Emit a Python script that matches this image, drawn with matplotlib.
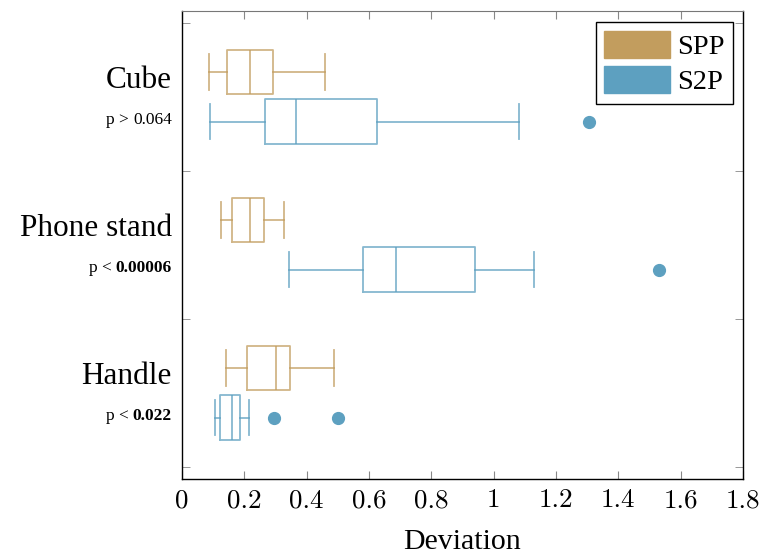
import matplotlib
matplotlib.use("Agg")
import matplotlib.pyplot as plt
from matplotlib.patches import Patch
from matplotlib.ticker import FixedLocator
from matplotlib.transforms import blended_transform_factory

categories = ["Cube", "Phone stand", "Handle"]
p_prefix = ["p > ", "p < ", "p < "]
p_values = ["0.064", "0.00006", "0.022"]
p_bold = [False, True, True]
series = ["SPP", "S2P"]

# five-number summaries: whislo, q1, med, q3, whishi
spp_stats = [
    [0.087, 0.143, 0.217, 0.293, 0.460],
    [0.124, 0.161, 0.217, 0.264, 0.328],
    [0.142, 0.210, 0.303, 0.348, 0.487],
]
s2p_stats = [
    [0.091, 0.265, 0.366, 0.626, 1.081],
    [0.343, 0.581, 0.687, 0.939, 1.131],
    [0.106, 0.121, 0.161, 0.187, 0.216],
]
spp_outliers = [[], [], []]
s2p_outliers = [[1.306], [1.529], [0.294, 0.501]]

xticks = [0, 0.2, 0.4, 0.6, 0.8, 1, 1.2, 1.4, 1.6, 1.8]
xticklabels = ["0", "0.2", "0.4", "0.6", "0.8", "1", "1.2", "1.4", "1.6", "1.8"]

col_spp = "#C29D5E"
col_s2p = "#5DA0C0"
serif = ["Liberation Serif", "DejaVu Serif"]

fig = plt.figure(figsize=(7.63, 5.54), dpi=100)
ax = fig.add_axes([182/763, 1 - 479/554, (743-182)/763, (479-11)/554])

centers = [3, 2, 1]
off = 0.167

def mk(stats, outl, label):
    return [dict(whislo=s[0], q1=s[1], med=s[2], q3=s[3], whishi=s[4],
                 fliers=o, label=label) for s, o in zip(stats, outl)]

for stats, outl, col, sign in [(spp_stats, spp_outliers, col_spp, +1),
                               (s2p_stats, s2p_outliers, col_s2p, -1)]:
    pos = [c + sign * off for c in centers]
    ax.bxp(mk(stats, outl, ""), positions=pos, widths=0.30, capwidths=0.24,
           vert=False, showfliers=True, patch_artist=False,
           boxprops=dict(color=col, alpha=0.75, lw=1.3),
           medianprops=dict(color=col, alpha=0.75, lw=1.3),
           whiskerprops=dict(color=col, alpha=0.75, lw=1.3),
           capprops=dict(color=col, alpha=0.75, lw=1.3),
           flierprops=dict(marker="o", markerfacecolor=col, markeredgecolor=col,
                           markersize=8.5, linestyle="none"))

ax.set_xlim(0, 1.8)
ax.set_ylim(0.419, 3.58)
ax.set_xticks(xticks)
ax.set_xticklabels(xticklabels, fontfamily="cmr10", fontsize=19.5)
ax.tick_params(axis="x", direction="in", length=6, color="#888888",
               top=True, bottom=True, pad=7)
ax.set_yticks(centers)
ax.set_yticklabels([])
ax.tick_params(axis="y", which="major", length=0)
ax.yaxis.set_minor_locator(FixedLocator([0.5, 1.5, 2.5, 3.5]))
ax.tick_params(axis="y", which="minor", direction="in", length=6,
               color="#888888", left=True, right=True)

for sp in ["left", "right", "bottom"]:
    ax.spines[sp].set_color("black")
    ax.spines[sp].set_linewidth(1.0)
ax.spines["top"].set_color("#777777")

ax.set_xlabel("Deviation", fontfamily=serif, fontsize=21.5, labelpad=12)

tr = blended_transform_factory(ax.transAxes, ax.transData)
for c, name, pre, pv, b in zip(centers, categories, p_prefix, p_values, p_bold):
    ax.text(-0.018, c + 0.11, name, transform=tr, ha="right", va="center",
            fontfamily=serif, fontsize=22.5)
    t = ax.text(-0.018, c - 0.155, pv, transform=tr, ha="right", va="center",
                fontfamily=serif, fontsize=12.5,
                fontweight="bold" if b else "normal")
    ax.annotate(pre, xy=(0, 0), xycoords=t, ha="right", va="bottom",
                fontfamily=serif, fontsize=12.5)

handles = [Patch(facecolor=col_spp, edgecolor=col_spp, label=series[0]),
           Patch(facecolor=col_s2p, edgecolor=col_s2p, label=series[1])]
leg = ax.legend(handles=handles, loc="upper right", bbox_to_anchor=(0.982, 0.976),
                prop={"family": serif, "size": 20.5}, fancybox=False,
                framealpha=1, edgecolor="black", handlelength=2.3,
                handleheight=1.1, handletextpad=0.25, borderpad=0.3,
                labelspacing=0.2, borderaxespad=0)
leg.get_frame().set_linewidth(1.0)

fig.savefig("out.png", dpi=100)
